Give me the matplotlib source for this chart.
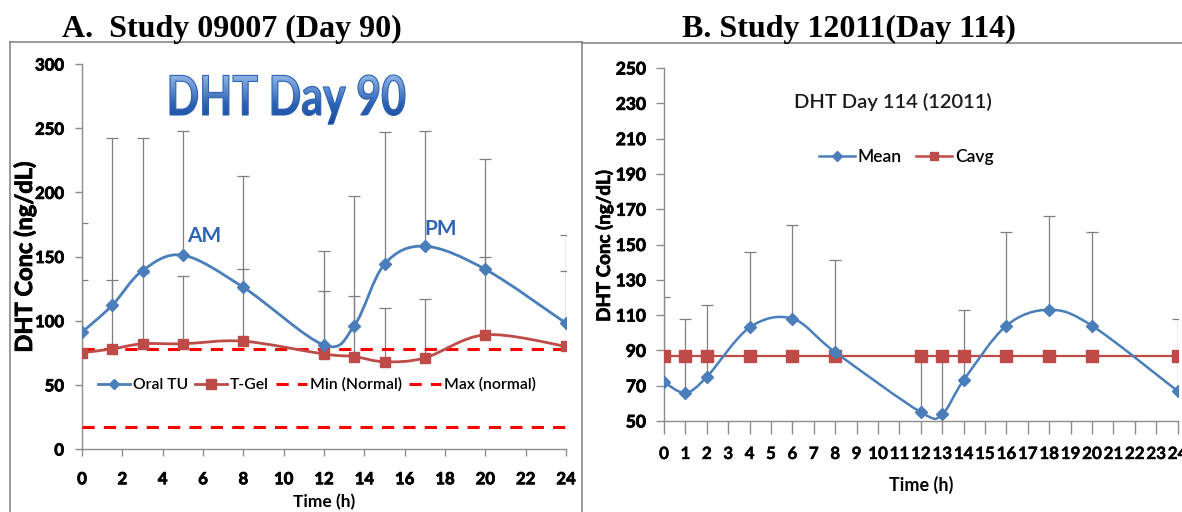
import numpy as np
import matplotlib
matplotlib.use("Agg")
import matplotlib.pyplot as plt
import matplotlib.patheffects as pe
from matplotlib.path import Path
from matplotlib.patches import PathPatch
from matplotlib.lines import Line2D
from matplotlib.textpath import TextPath
from matplotlib.font_manager import FontProperties
from matplotlib.transforms import Affine2D
from matplotlib.colors import LinearSegmentedColormap

# ---------------- data ----------------
# Study 09007, Day 90
time_a = [0, 1.5, 3, 5, 8, 12, 13.5, 15, 17, 20, 24]
oral_tu = [91, 112, 139, 151, 126, 81, 96, 144, 158, 140, 98]
oral_tu_sd = [85, 130, 103, 97, 87, 73, 101, 103, 90, 86, 69]
t_gel = [75, 78, 82, 82, 84, 74, 72, 68, 71, 89, 80]
t_gel_sd = [57, 54, 55, 53, 56, 49, 47, 42, 46, 61, 59]
min_normal = 17
max_normal = 78
xticks_a = list(range(0, 25, 2))
yticks_a = list(range(0, 301, 50))

# Study 12011, Day 114
time_b = [0, 1, 2, 4, 6, 8, 12, 13, 14, 16, 18, 20, 24]
mean_b = [72, 66, 75, 103, 108, 89, 55, 54, 73, 104, 113, 104, 67]
mean_b_sd = [48, 42, 41, 43, 53, 52, 33, 34, 40, 53, 53, 53, 41]
cavg_b = [87] * 13
xticks_b = list(range(0, 25))
yticks_b = list(range(50, 251, 20))

BLUE = "#4A7EBB"
RED = "#BE4B48"
GREY = "#8C8C8C"
W, H = 1182, 512

plt.rcParams["font.family"] = ["Lato", "DejaVu Sans"]

fig = plt.figure(figsize=(W / 100, H / 100), dpi=100)


def heavy(lw):
    return [pe.withStroke(linewidth=lw, foreground="black")]


def fx(px):
    return px / W


def fy(py):
    return 1 - py / H


def smooth_path(x, y):
    """Bezier path through the points with Excel-like smoothing."""
    pts = np.column_stack([x, y]).astype(float)
    n = len(pts)
    verts = [pts[0]]
    codes = [Path.MOVETO]
    for i in range(n - 1):
        p0 = pts[max(i - 1, 0)]
        p1 = pts[i]
        p2 = pts[i + 1]
        p3 = pts[min(i + 2, n - 1)]
        c1 = p1 + (p2 - p0) / 6.0
        c2 = p2 - (p3 - p1) / 6.0
        verts += [c1, c2, p2]
        codes += [Path.CURVE4] * 3
    return Path(verts, codes)


def style_axes(ax, xlen, ylen):
    for s in ("top", "right"):
        ax.spines[s].set_visible(False)
    for s in ("left", "bottom"):
        ax.spines[s].set_color(GREY)
        ax.spines[s].set_linewidth(1.0)
    ax.tick_params(axis="x", direction="out", length=xlen, width=1.0, color=GREY)
    ax.tick_params(axis="y", direction="out", length=ylen, width=1.0, color=GREY)
    ax.patch.set_alpha(0)


def bold_ticks(labels, size, stroke):
    for lab in labels:
        lab.set_fontweight("bold")
        lab.set_fontsize(size)
        if stroke:
            lab.set_path_effects(heavy(stroke))


def upper_errorbar(ax, x, y, err, cap):
    eb = ax.errorbar(x, y, yerr=[np.zeros(len(err)), err], fmt="none",
                     ecolor="#7F7F7F", elinewidth=0.9, capsize=cap,
                     capthick=0.9, zorder=2)
    eb[1][0].set_visible(False)


# ---------------- frame + headings ----------------
overlay = fig.add_axes([0, 0, 1, 1], zorder=-5)
overlay.axis("off")
overlay.plot([10, 10], [H - 42, -5], color="#7F7F7F", lw=1.1)
overlay.plot([10, 582], [H - 42, H - 42], color="#7F7F7F", lw=1.1)
overlay.plot([582, 582], [H - 42, -5], color="#7F7F7F", lw=1.1)
overlay.plot([582, W], [H - 43, H - 43], color="#7F7F7F", lw=1.1)

serif = ["Liberation Serif", "DejaVu Serif"]
fig.text(fx(62), fy(37), "A.  Study 09007 (Day 90)", family=serif,
         weight="bold", fontsize=23, ha="left", va="baseline")
fig.text(fx(682), fy(37), "B. Study 12011(Day 114)", family=serif,
         weight="bold", fontsize=23, ha="left", va="baseline")

# ---------------- panel A ----------------
aw = 566 - 82
ah = 449 - 64
axA = fig.add_axes([fx(82), fy(449), fx(566) - fx(82), fy(64) - fy(449)])
style_axes(axA, 5, 5)
axA.set_xlim(0, 24)
axA.set_ylim(0, 300)
axA.set_xticks(xticks_a)
axA.set_yticks(yticks_a)
bold_ticks(axA.get_xticklabels() + axA.get_yticklabels(), 12, 0.6)
axA.tick_params(axis="x", pad=11)
axA.tick_params(axis="y", pad=8)

upper_errorbar(axA, time_a, oral_tu, oral_tu_sd, 4.3)
upper_errorbar(axA, time_a, t_gel, t_gel_sd, 4.3)

axA.hlines([max_normal, min_normal], time_a[0], time_a[-1], colors="#FF0000",
           linestyles=(0, (4, 3)), linewidth=2.2, zorder=3)

axA.add_patch(PathPatch(smooth_path(time_a, t_gel), fill=False,
                        edgecolor=RED, lw=2.0, zorder=4))
axA.plot(time_a, t_gel, ls="none", marker="s", ms=7.5, color=RED, zorder=5)
axA.add_patch(PathPatch(smooth_path(time_a, oral_tu), fill=False,
                        edgecolor=BLUE, lw=2.0, zorder=6))
axA.plot(time_a, oral_tu, ls="none", marker="D", ms=6.2, color=BLUE, zorder=7)

axA.set_ylabel("DHT Conc (ng/dL)", fontsize=17, weight="bold")
axA.yaxis.label.set_path_effects(heavy(0.6))
axA.yaxis.set_label_coords((36 - 82) / aw, (449 - 257) / ah)
axA.set_xlabel("Time (h)", fontsize=12.5, weight="bold")
axA.xaxis.set_label_coords((324 - 82) / aw, -(502 - 449) / ah)
axA.xaxis.label.set_va("center")

handles_a = [
    Line2D([], [], color=BLUE, lw=2.0, marker="D", ms=5.5),
    Line2D([], [], color=RED, lw=2.0, marker="s", ms=7.5),
    Line2D([], [], color="#FF0000", lw=2.2, ls=(0, (4, 3))),
    Line2D([], [], color="#FF0000", lw=2.2, ls=(0, (4, 3))),
]
legA = axA.legend(handles_a, ["Oral TU", "T-Gel", "Min (Normal)", "Max (normal)"],
                  loc="center", bbox_to_anchor=((317 - 82) / aw, 50 / 300), ncol=4,
                  frameon=False, handlelength=2.0,
                  handletextpad=0.2, columnspacing=0.45,
                  prop=FontProperties(family="Lato", weight="semibold", size=11.3))

# AM / PM annotations
axA.text(5.2, 158, "AM", color="#2F64B4", fontsize=15, weight="bold",
         ha="left", va="bottom")
axA.text(17.0, 164, "PM", color="#2F64B4", fontsize=15, weight="bold",
         ha="left", va="bottom")

# Large gradient title "DHT Day 90"
fp = FontProperties(family="Lato", weight="bold")
tp = TextPath((0, 0), "DHT Day 90", size=100, prop=fp)
bb = tp.get_extents()
target_w, target_h = 235.0, 40.0
sx = target_w / bb.width
sy = target_h / bb.y1
x0, y0 = 170, H - 115
tr = Affine2D().translate(-bb.x0, 0).scale(sx, sy).translate(x0, y0)
title_path = tr.transform_path(tp)
patch = PathPatch(title_path, facecolor="none", edgecolor="none", zorder=1)
overlay.add_patch(patch)
tb = title_path.get_extents()
grad = np.linspace(0, 1, 256).reshape(-1, 1)
cmap = LinearSegmentedColormap.from_list("tt", ["#0B3C94", "#2C62B4", "#94B8E8"])
im = overlay.imshow(grad, cmap=cmap, extent=(tb.x0, tb.x1, tb.y1, tb.y0 - 10),
                    aspect="auto", origin="upper", zorder=1)
im.set_clip_path(patch)
overlay.add_patch(PathPatch(title_path, facecolor="none", edgecolor="#2C62B4",
                            lw=0.8, zorder=2))
overlay.set_xlim(0, W)
overlay.set_ylim(0, H)

# ---------------- panel B ----------------
bw = 1177.5 - 664
bh = 421 - 68
axB = fig.add_axes([fx(664), fy(421), fx(1177.5) - fx(664), fy(68) - fy(421)])
style_axes(axB, 9, 6)
axB.set_xlim(0, 24)
axB.set_ylim(50, 250)
axB.set_xticks(xticks_b)
axB.set_yticks(yticks_b)
bold_ticks(axB.get_yticklabels(), 12.5, 0.6)
bold_ticks(axB.get_xticklabels(), 12.2, 0.3)
axB.tick_params(axis="x", pad=9)
axB.tick_params(axis="y", pad=7)

upper_errorbar(axB, time_b, mean_b, mean_b_sd, 4.3)
axB.plot(time_b, cavg_b, color=RED, lw=1.6, marker="s", ms=8.2, zorder=4)
axB.add_patch(PathPatch(smooth_path(time_b, mean_b), fill=False,
                        edgecolor=BLUE, lw=1.8, zorder=5))
axB.plot(time_b, mean_b, ls="none", marker="D", ms=5.8, color=BLUE, zorder=6)

axB.set_ylabel("DHT Conc (ng/dL)", fontsize=13.5, weight="bold")
axB.yaxis.label.set_path_effects(heavy(0.5))
axB.yaxis.set_label_coords((613 - 664) / bw, (421 - 246) / bh)
axB.set_xlabel("Time (h)", fontsize=13, weight="bold")
axB.xaxis.set_label_coords((921 - 664) / bw, -(485 - 421) / bh)
axB.xaxis.label.set_va("center")

axB.text((893 - 664) / bw, (421 - 102) / bh, "DHT Day 114 (12011)",
         transform=axB.transAxes, fontsize=14.5, weight="semibold",
         ha="center", va="center", color="#1A1A1A")
handles_b = [
    Line2D([], [], color=BLUE, lw=1.8, marker="D", ms=5),
    Line2D([], [], color=RED, lw=1.8, marker="s", ms=6),
]
axB.legend(handles_b, ["Mean", "Cavg"], loc="center",
           bbox_to_anchor=((906 - 664) / bw, (421 - 157) / bh),
           ncol=2, frameon=False, handlelength=2.1,
           handletextpad=0.15, columnspacing=0.8,
           prop=FontProperties(family="Lato", weight="semibold", size=12.5))

fig.savefig("out.png", dpi=100)
